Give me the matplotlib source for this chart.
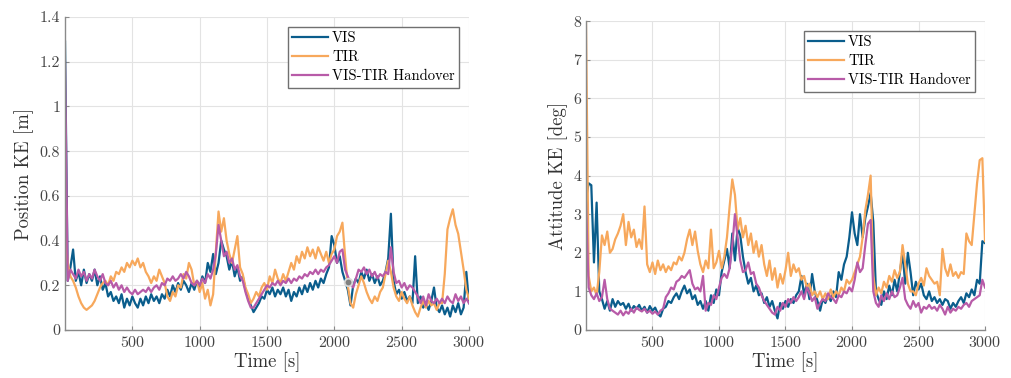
import numpy as np
import matplotlib
matplotlib.use("Agg")
import matplotlib.pyplot as plt
from matplotlib.ticker import FuncFormatter

plt.rcParams["font.family"] = "serif"
plt.rcParams["font.serif"] = ["cmr10", "DejaVu Serif"]
plt.rcParams["axes.formatter.use_mathtext"] = True
plt.rcParams["mathtext.fontset"] = "cm"

# time axis, one sample every 20 s
t = np.arange(0, 3001, 20)

# position knowledge error [m]
pos_vis = [
    1.29, 0.22, 0.28, 0.36, 0.22, 0.26, 0.20, 0.27, 0.21, 0.25,
    0.22, 0.27, 0.20, 0.24, 0.18, 0.21, 0.15, 0.17, 0.13, 0.15,
    0.12, 0.16, 0.10, 0.14, 0.11, 0.15, 0.12, 0.10, 0.14, 0.11,
    0.15, 0.12, 0.16, 0.13, 0.15, 0.12, 0.16, 0.14, 0.18, 0.15,
    0.20, 0.17, 0.21, 0.18, 0.22, 0.20, 0.17, 0.21, 0.18, 0.22,
    0.19, 0.24, 0.21, 0.30, 0.26, 0.34, 0.25, 0.30, 0.40, 0.36,
    0.33, 0.27, 0.31, 0.24, 0.28, 0.22, 0.24, 0.18, 0.14, 0.11,
    0.08, 0.10, 0.12, 0.15, 0.14, 0.18, 0.16, 0.19, 0.15, 0.18,
    0.16, 0.19, 0.15, 0.18, 0.13, 0.17, 0.15, 0.19, 0.16, 0.20,
    0.17, 0.21, 0.18, 0.22, 0.19, 0.23, 0.21, 0.25, 0.28, 0.42,
    0.38, 0.30, 0.33, 0.26, 0.22, 0.18, 0.11, 0.20, 0.23, 0.21,
    0.26, 0.23, 0.27, 0.22, 0.25, 0.21, 0.24, 0.20, 0.22, 0.26,
    0.32, 0.52, 0.22, 0.16, 0.18, 0.14, 0.17, 0.13, 0.15, 0.12,
    0.33, 0.12, 0.15, 0.10, 0.12, 0.09, 0.13, 0.19, 0.10, 0.08,
    0.11, 0.07, 0.10, 0.06, 0.11, 0.08, 0.12, 0.07, 0.10, 0.26,
    0.12,
]
pos_tir = [
    0.45, 0.30, 0.24, 0.22, 0.19, 0.15, 0.12, 0.10, 0.09, 0.10,
    0.11, 0.13, 0.16, 0.19, 0.21, 0.22, 0.20, 0.24, 0.22, 0.26,
    0.25, 0.28, 0.26, 0.30, 0.28, 0.31, 0.29, 0.32, 0.28, 0.30,
    0.26, 0.24, 0.21, 0.24, 0.22, 0.27, 0.24, 0.21, 0.15, 0.13,
    0.17, 0.15, 0.20, 0.19, 0.25, 0.23, 0.30, 0.27, 0.20, 0.22,
    0.17, 0.21, 0.14, 0.18, 0.11, 0.16, 0.35, 0.53, 0.44, 0.50,
    0.40, 0.34, 0.30, 0.36, 0.42, 0.28, 0.25, 0.19, 0.16, 0.12,
    0.14, 0.17, 0.15, 0.19, 0.21, 0.18, 0.24, 0.21, 0.27, 0.23,
    0.21, 0.25, 0.22, 0.26, 0.30, 0.27, 0.33, 0.30, 0.35, 0.32,
    0.37, 0.33, 0.36, 0.32, 0.37, 0.34, 0.31, 0.35, 0.30, 0.34,
    0.36, 0.42, 0.44, 0.48, 0.33, 0.20, 0.12, 0.10, 0.16, 0.20,
    0.24, 0.21, 0.17, 0.14, 0.12, 0.15, 0.13, 0.17, 0.19, 0.25,
    0.31, 0.26, 0.19, 0.15, 0.13, 0.17, 0.14, 0.12, 0.15, 0.11,
    0.08, 0.06, 0.10, 0.13, 0.10, 0.13, 0.11, 0.12, 0.09, 0.12,
    0.12, 0.25, 0.45, 0.50, 0.54, 0.47, 0.43, 0.35, 0.27, 0.18,
    0.14,
]
pos_hand = [
    1.20, 0.22, 0.27, 0.25, 0.23, 0.27, 0.24, 0.26, 0.22, 0.25,
    0.23, 0.27, 0.24, 0.22, 0.25, 0.21, 0.20, 0.22, 0.19, 0.21,
    0.18, 0.20, 0.17, 0.19, 0.17, 0.16, 0.18, 0.16, 0.17, 0.18,
    0.17, 0.19, 0.17, 0.19, 0.20, 0.18, 0.21, 0.20, 0.23, 0.22,
    0.24, 0.22, 0.23, 0.25, 0.23, 0.26, 0.24, 0.21, 0.20, 0.22,
    0.20, 0.23, 0.21, 0.25, 0.23, 0.27, 0.34, 0.47, 0.40, 0.33,
    0.35, 0.30, 0.32, 0.27, 0.29, 0.24, 0.22, 0.17, 0.13, 0.10,
    0.10, 0.12, 0.14, 0.16, 0.18, 0.20, 0.19, 0.21, 0.20, 0.22,
    0.20, 0.22, 0.21, 0.23, 0.21, 0.23, 0.22, 0.24, 0.23, 0.25,
    0.24, 0.26, 0.25, 0.27, 0.25, 0.27, 0.26, 0.28, 0.29, 0.31,
    0.33, 0.30, 0.35, 0.36, 0.27, 0.24, 0.21, 0.19, 0.23, 0.27,
    0.26, 0.28, 0.25, 0.27, 0.24, 0.26, 0.23, 0.25, 0.24, 0.26,
    0.25, 0.37, 0.26, 0.21, 0.22, 0.19, 0.21, 0.18, 0.20, 0.19,
    0.17, 0.15, 0.12, 0.15, 0.11, 0.16, 0.13, 0.12, 0.14, 0.12,
    0.14, 0.12, 0.15, 0.13, 0.12, 0.16, 0.13, 0.15, 0.12, 0.14,
    0.12,
]

# attitude knowledge error [deg]
att_vis = [
    3.40, 3.80, 3.75, 1.75, 3.30, 1.00, 0.80, 0.55, 0.75, 0.50,
    0.80, 0.60, 0.75, 0.65, 0.70, 0.55, 0.68, 0.50, 0.62, 0.55,
    0.65, 0.50, 0.60, 0.45, 0.62, 0.50, 0.58, 0.42, 0.35, 0.55,
    0.60, 0.75, 0.70, 0.85, 0.95, 0.80, 1.00, 1.15, 0.95, 1.05,
    0.80, 0.90, 0.65, 0.75, 0.55, 0.75, 0.50, 0.90, 0.70, 1.05,
    0.90, 1.50, 1.80, 2.10, 1.60, 2.50, 1.80, 2.65, 2.45, 1.90,
    1.50, 1.20, 1.35, 1.00, 1.15, 0.90, 0.95, 0.70, 0.85, 0.60,
    0.75, 0.50, 0.30, 0.70, 0.55, 0.75, 0.60, 0.80, 0.70, 0.90,
    1.00, 1.40, 0.90, 1.20, 0.80, 1.45, 1.00, 0.75, 0.50, 0.80,
    0.70, 0.90, 0.75, 1.00, 0.85, 1.50, 1.30, 1.70, 1.90, 2.40,
    3.05, 2.50, 2.20, 3.00, 2.40, 2.90, 3.20, 3.55, 2.80, 1.00,
    0.80, 0.65, 1.00, 0.80, 1.15, 0.90, 1.30, 1.00, 1.50, 2.00,
    1.20, 2.00, 1.50, 0.90, 1.25, 1.05, 1.20, 0.90, 0.80, 1.00,
    0.75, 0.85, 0.70, 0.80, 0.65, 0.80, 0.75, 0.55, 0.70, 0.60,
    0.75, 0.85, 0.70, 0.95, 0.85, 1.05, 0.90, 1.30, 1.20, 2.30,
    2.25,
]
att_tir = [
    8.00, 1.40, 1.00, 1.10, 0.90, 1.50, 2.45, 2.20, 2.55, 2.00,
    2.10, 2.35, 2.50, 2.70, 3.00, 2.20, 2.80, 2.40, 2.60, 2.15,
    2.35, 2.10, 3.20, 1.70, 1.50, 1.75, 1.45, 1.80, 1.55, 1.70,
    1.50, 1.65, 1.55, 1.75, 1.70, 1.90, 1.80, 2.00, 2.35, 2.60,
    2.20, 2.55, 2.05, 1.70, 1.50, 1.80, 1.60, 2.60, 1.60, 1.75,
    2.05, 1.60, 1.90, 2.40, 3.20, 3.90, 3.50, 2.60, 2.90, 2.40,
    2.70, 2.20, 2.50, 2.00, 2.30, 1.90, 2.20, 1.70, 1.40, 1.80,
    1.30, 1.60, 1.10, 1.45, 1.20, 1.55, 2.00, 1.40, 1.70, 1.50,
    1.60, 1.30, 1.40, 1.10, 1.20, 0.90, 1.00, 0.85, 1.00, 0.80,
    0.95, 0.80, 1.05, 0.85, 1.00, 0.90, 1.10, 1.00, 1.30, 1.20,
    1.30, 1.50, 1.70, 1.90, 2.40, 3.10, 3.50, 4.00, 1.40, 0.90,
    1.10, 0.95, 1.25, 1.10, 1.40, 1.25, 1.55, 1.35, 1.50, 2.20,
    1.70, 1.20, 1.00, 1.00, 0.90, 1.20, 1.35, 1.15, 1.60, 1.40,
    1.30, 1.20, 1.25, 0.90, 2.10, 1.60, 1.40, 1.70, 1.40, 1.50,
    1.35, 1.50, 1.45, 2.50, 2.30, 2.20, 3.00, 3.80, 4.40, 4.45,
    2.30,
]
att_hand = [
    3.30, 1.10, 0.90, 0.80, 0.95, 0.75, 0.85, 1.30, 0.80, 0.55,
    0.50, 0.45, 0.40, 0.50, 0.38, 0.48, 0.42, 0.55, 0.45, 0.58,
    0.52, 0.48, 0.55, 0.45, 0.50, 0.42, 0.48, 0.40, 0.50, 0.55,
    0.85, 0.95, 1.10, 1.05, 1.25, 1.30, 1.40, 1.35, 1.45, 1.55,
    1.20, 1.05, 1.10, 1.00, 1.40, 0.50, 0.70, 0.65, 0.90, 0.80,
    1.10, 1.35, 1.45, 1.35, 1.60, 2.20, 3.00, 2.40, 1.80, 1.50,
    1.55, 1.75, 1.45, 1.50, 1.20, 1.10, 0.90, 0.75, 0.65, 0.55,
    0.45, 0.40, 0.60, 0.50, 0.70, 0.60, 0.80, 0.70, 0.85, 0.75,
    0.85, 1.00, 0.80, 1.10, 0.95, 0.75, 0.85, 0.55, 0.70, 0.80,
    0.75, 0.95, 0.85, 0.80, 0.70, 0.90, 0.85, 1.00, 0.95, 1.10,
    1.00, 1.30, 1.75, 1.50, 1.60, 2.20, 2.75, 2.85, 1.00, 0.70,
    0.60, 0.90, 0.75, 0.95, 0.80, 1.00, 0.85, 0.90, 1.10, 1.35,
    0.80, 0.65, 0.55, 0.75, 0.60, 0.70, 0.45, 0.60, 0.55, 0.65,
    0.55, 0.60, 0.50, 0.65, 0.55, 0.40, 0.60, 0.45, 0.55, 0.50,
    0.60, 0.55, 0.65, 0.70, 0.60, 0.75, 0.80, 0.85, 0.90, 1.30,
    1.10,
]

# data tip left on the position plot
tip_t, tip_val = 2098, 0.215

labels = ["VIS", "TIR", "VIS-TIR Handover"]
colors = ["#0a5d8c", "#f7a85c", "#b85ba8"]

fig = plt.figure(figsize=(10.11, 3.78), dpi=100)
ax1 = fig.add_axes([0.0643, 0.127, 0.3996, 0.828])
ax2 = fig.add_axes([0.5796, 0.127, 0.3947, 0.817])


def style(ax, ylim, yticks, ylabel):
    ax.set_xlim(0, 3000)
    ax.set_ylim(*ylim)
    ax.set_xticks([500, 1000, 1500, 2000, 2500, 3000])
    ax.set_yticks(yticks)
    ax.yaxis.set_major_formatter(FuncFormatter(lambda v, p: "%g" % round(v, 2)))
    ax.grid(True, color="#e3e3e3", linewidth=0.8)
    ax.set_axisbelow(True)
    for s in ["top", "right"]:
        ax.spines[s].set_visible(False)
    for s in ["left", "bottom"]:
        ax.spines[s].set_color("#8a8a8a")
        ax.spines[s].set_linewidth(1.0)
    ax.tick_params(direction="in", length=3, color="#8a8a8a",
                   labelcolor="#444444", labelsize=11.5)
    ax.set_xlabel("Time [s]", fontsize=13.5, color="#333333", labelpad=2)
    ax.set_ylabel(ylabel, fontsize=13.5, color="#333333", labelpad=4)
    ax.legend(loc="upper right", fontsize=10.5, frameon=True, fancybox=False,
              edgecolor="#707070", framealpha=1, borderpad=0.3,
              handlelength=2.5, handletextpad=0.25, labelspacing=0.37,
              borderaxespad=0.68)


for ys, lab, c in zip([pos_vis, pos_tir, pos_hand], labels, colors):
    ax1.plot(t, ys, color=c, linewidth=1.6, label=lab)
ax1.plot(tip_t, tip_val, "o", markersize=5.5, markerfacecolor="#808080",
         markeredgecolor="#d8d8d8", markeredgewidth=1.3)
style(ax1, (0, 1.4), np.arange(0, 1.41, 0.2), "Position KE [m]")

for ys, lab, c in zip([att_vis, att_tir, att_hand], labels, colors):
    ax2.plot(t, ys, color=c, linewidth=1.6, label=lab)
style(ax2, (0, 8), np.arange(0, 9, 1), "Attitude KE [deg]")

fig.savefig("out.png", dpi=100)
